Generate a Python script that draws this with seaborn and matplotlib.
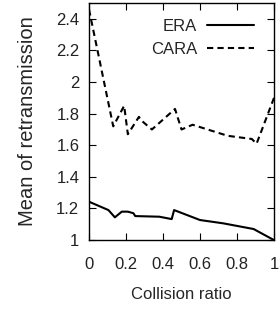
import pandas as pd
import matplotlib
matplotlib.use("Agg")
import matplotlib.pyplot as plt
import seaborn as sns

# values
era_x = [0.0, 0.105, 0.14, 0.177, 0.21, 0.24, 0.25, 0.38, 0.447, 0.46, 0.60, 0.726, 0.89, 1.0]
era_y = [1.243, 1.19, 1.144, 1.18, 1.18, 1.17, 1.152, 1.148, 1.133, 1.19, 1.127, 1.106, 1.07, 1.0]

cara_x = [0.0, 0.131, 0.19, 0.21, 0.27, 0.28, 0.34, 0.465, 0.50, 0.56, 0.75, 0.88, 0.906, 1.0]
cara_y = [2.46, 1.72, 1.85, 1.67, 1.78, 1.76, 1.70, 1.83, 1.70, 1.73, 1.66, 1.64, 1.61, 1.90]

xticks = [0, 0.2, 0.4, 0.6, 0.8, 1]
xtick_labels = ["0", "0.2", "0.4", "0.6", "0.8", "1"]
yticks = [1, 1.2, 1.4, 1.6, 1.8, 2, 2.2, 2.4]
ytick_labels = ["1", "1.2", "1.4", "1.6", "1.8", "2", "2.2", "2.4"]

df = pd.concat([
    pd.DataFrame({"x": era_x, "y": era_y, "proto": "ERA"}),
    pd.DataFrame({"x": cara_x, "y": cara_y, "proto": "CARA"}),
])

sns.set_style("ticks")
plt.rcParams['font.family'] = ['Liberation Sans', 'DejaVu Sans']

fig = plt.figure(figsize=(2.79, 3.09), dpi=100)
ax = fig.add_axes([0.319, 0.223, 0.663, 0.767])

sns.lineplot(data=df, x="x", y="y", style="proto", hue="proto",
             palette=["black", "black"], dashes={"ERA": "", "CARA": (3, 2)},
             linewidth=1.5, sort=False, estimator=None, ax=ax)

ax.set_xlim(0, 1)
ax.set_ylim(1, 2.5)
ax.set_xticks(xticks)
ax.set_xticklabels(xtick_labels)
ax.set_yticks(yticks)
ax.set_yticklabels(ytick_labels)
ax.tick_params(direction="in", top=True, right=True, length=5, width=0.8,
               labelsize=12, colors="black", labelcolor="#222222")
ax.tick_params(axis="x", pad=12)
ax.tick_params(axis="y", pad=7)
for s in ax.spines.values():
    s.set_linewidth(1.0)
    s.set_color("black")

ax.set_xlabel("Collision ratio", fontsize=12, labelpad=11)
ax.set_ylabel("Mean of retransmission", fontsize=14.5, labelpad=14)

# text before the line sample, like gnuplot's key
ax.legend(loc="upper right", bbox_to_anchor=(0.946, 0.975),
          markerfirst=False, frameon=False,
          fontsize=12, handlelength=2.8, labelspacing=0.45,
          borderaxespad=0.2, handletextpad=0.6)

fig.savefig("out.png", dpi=100)
